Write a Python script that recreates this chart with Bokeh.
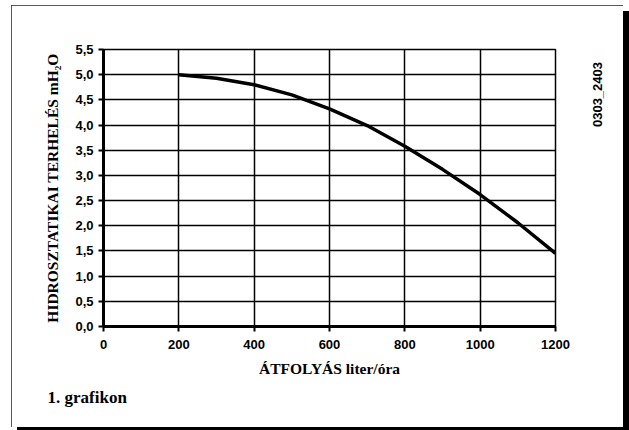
import math
from bokeh.plotting import figure
from bokeh.models import FixedTicker, Range1d, Title, LinearAxis
from bokeh.embed import file_html
from bokeh.resources import INLINE

# ---- data ----
flow = [200, 300, 400, 500, 600, 700, 800, 900, 1000, 1100, 1200]
head = [5.00, 4.93, 4.80, 4.60, 4.32, 3.99, 3.58, 3.12, 2.62, 2.06, 1.45]

x_ticks = [0, 200, 400, 600, 800, 1000, 1200]
y_ticks = [0.0, 0.5, 1.0, 1.5, 2.0, 2.5, 3.0, 3.5, 4.0, 4.5, 5.0, 5.5]
y_tick_labels = ["0,0", "0,5", "1,0", "1,5", "2,0", "2,5", "3,0", "3,5",
                 "4,0", "4,5", "5,0", "5,5"]

x_title = "ÁTFOLYÁS liter/óra"
y_title = "HIDROSZTATIKAI TERHELÉS mH₂O"
caption = "1. grafikon"
code_text = "0303_2403"
code_pos = 3.96   # where the (upward-reading) code text starts, in y units

p = figure(width=612, height=422,
           x_range=Range1d(0, 1200), y_range=Range1d(0, 5.5),
           output_backend="svg", toolbar_location=None,
           min_border_left=92, min_border_right=68,
           min_border_top=44, min_border_bottom=101)
p.margin = (5, 0, 0, 11)
p.styles = {"outline": "2px solid #222", "outline-offset": "-2px",
            "box-shadow": "6px 6px 0 0 #000"}
p.background_fill_color = "white"
p.border_fill_color = "white"

p.outline_line_color = "black"
p.outline_line_width = 1.5

for ax, ticks in ((p.xaxis, x_ticks), (p.yaxis, y_ticks)):
    ax.ticker = FixedTicker(ticks=ticks)
    ax.axis_line_width = 3
    ax.axis_line_color = "black"
    ax.major_tick_out = 5
    ax.major_tick_in = 0
    ax.major_tick_line_width = 2
    ax.major_tick_line_color = "black"
    ax.minor_tick_out = 0
    ax.minor_tick_in = 0
    ax.major_label_text_font = "Liberation Sans"
    ax.major_label_text_font_style = "bold"
    ax.major_label_text_font_size = "13px"
    ax.major_label_text_color = "black"
    ax.axis_label_text_font = "Liberation Serif"
    ax.axis_label_text_font_style = "bold"
    ax.axis_label_text_color = "black"

p.yaxis.major_label_overrides = dict(zip(y_ticks, y_tick_labels))
p.xaxis.major_label_standoff = 8
p.yaxis.major_label_standoff = 5

p.xaxis.axis_label = x_title
p.xaxis.axis_label_text_font_size = "15.5px"
p.xaxis.axis_label_standoff = 8

p.yaxis.axis_label = y_title
p.yaxis.axis_label_text_font_size = "15.5px"
p.yaxis.axis_label_standoff = 11

p.xgrid.ticker = FixedTicker(ticks=x_ticks)
p.ygrid.ticker = FixedTicker(ticks=y_ticks)
for g in (p.xgrid, p.ygrid):
    g.grid_line_color = "black"
    g.grid_line_width = 1.5

p.line(flow, head, line_color="black", line_width=3.5)

# code text on the right, as the single label of a bare right axis
code_axis = LinearAxis(ticker=FixedTicker(ticks=[code_pos]),
                       major_label_overrides={code_pos: code_text},
                       major_label_orientation=math.pi / 2,
                       major_label_standoff=42,
                       major_label_text_font="Liberation Sans",
                       major_label_text_font_style="bold",
                       major_label_text_font_size="13px",
                       major_label_text_color="black",
                       axis_line_color=None, major_tick_line_color=None,
                       minor_tick_line_color=None,
                       major_tick_out=0, major_tick_in=0,
                       minor_tick_out=0, minor_tick_in=0)
p.add_layout(code_axis, "right")

# caption below the chart
p.add_layout(Title(text=caption, align="left", offset=-56, standoff=13,
                   text_font="Liberation Serif", text_font_style="bold",
                   text_font_size="17px", text_color="black"), "below")

open("out.html", "w").write(file_html(p, INLINE))
